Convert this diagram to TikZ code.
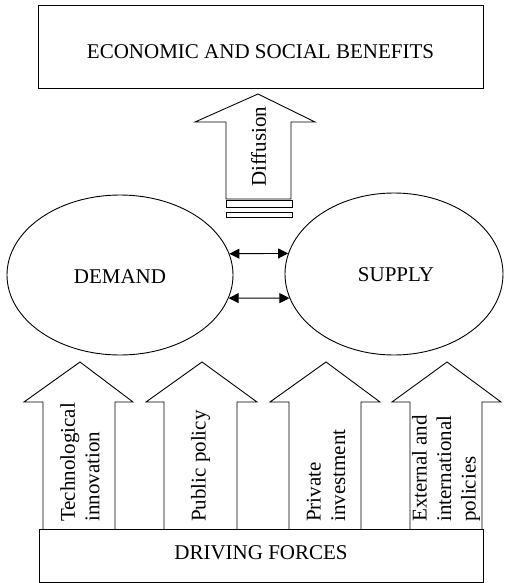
\documentclass[tikz,border=0pt]{standalone}
\usepackage{fontspec}
\setmainfont{Liberation Serif}
\usetikzlibrary{shapes.geometric,arrows.meta}
\tikzset{
  line/.style={draw=black,line width=0.9pt},
  box/.style={line,rectangle,inner sep=0pt},
  oval/.style={line,ellipse,inner sep=0pt},
  blockarrow/.style={line,fill=white,line join=miter},
  vlabel/.style={rotate=90,anchor=west,align=left,inner sep=0pt},
  link/.style={line width=0.9pt,{Triangle[length=10pt,width=10pt]}-{Triangle[length=10pt,width=10pt]}}
}
\begin{document}
\begin{tikzpicture}[x=1pt,y=-1pt,font=\fontsize{21}{24.5}\selectfont]
\useasboundingbox (0,0) rectangle (505,583);
% top box
\node[box,minimum width=445pt,minimum height=83pt] (benefits) at (260.5,46.5) {};
\node (benefitstext) at (260.5,52) {ECONOMIC AND SOCIAL BENEFITS};
% diffusion arrow
\draw[blockarrow] (226,199) -- (226,122) -- (195,122) -- (258,94) -- (315,122) -- (291,122) -- (291,199) -- cycle;
\draw[line] (226,200) rectangle (292,207);
\draw[line] (226,212) rectangle (292,217);
\node[vlabel] (diffusion) at (258.5,187) {Diffusion};
% ellipses
\node[oval,minimum width=226pt,minimum height=160pt] (demand) at (120,275) {};
\node (demandtext) at (120,277) {DEMAND};
\node[oval,minimum width=218pt,minimum height=162pt] (supply) at (394,274) {};
\node (supplytext) at (396,275) {SUPPLY};
\draw[link] (demand.11) -- (supply.169);
\draw[link] (demand.-12) -- (supply.-167);
% bottom arrows
\draw[blockarrow] (43,529) -- (43,402) -- (24,402) -- (80,362) -- (133,402) -- (115,402) -- (115,529);
\draw[blockarrow] (164,529) -- (164,402) -- (146,402) -- (202,362) -- (257,402) -- (237,402) -- (237,529);
\draw[blockarrow] (289,529) -- (289,402) -- (270,402) -- (326,362) -- (380,402) -- (361,402) -- (361,529);
\draw[blockarrow] (410,529) -- (410,402) -- (392,402) -- (447,362) -- (501,402) -- (482,402) -- (482,529);
\node[vlabel] (tech) at (80,522) {Technological\\innovation};
\node[vlabel] (public) at (200.5,522) {Public policy};
\node[vlabel] (private) at (326,522) {Private\\investment};
\node[vlabel] (external) at (446,522) {External and\\international\\policies};
% bottom box
\node[box,minimum width=444pt,minimum height=53pt] (forces) at (261,555.5) {};
\node (forcestext) at (261,553) {DRIVING FORCES};
\end{tikzpicture}
\end{document}
